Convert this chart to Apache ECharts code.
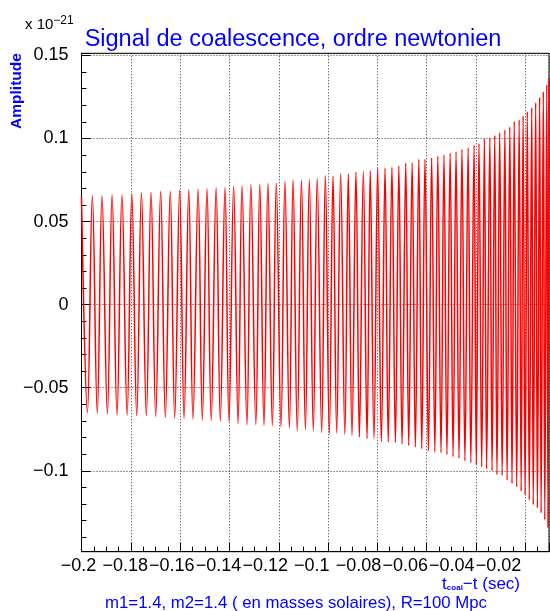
<!DOCTYPE html>
<html>
<head>
<meta charset="UTF-8">
<title>Signal de coalescence, ordre newtonien</title>
<script src="https://cdn.jsdelivr.net/npm/echarts@6/dist/echarts.min.js"></script>
<style>html,body{margin:0;padding:0;background:#fff;}</style>
</head>
<body>
<div id="chart" style="width:550px;height:611px;"></div>
<script type="text/javascript">
// extrema du signal : temps t-t_coal (s) et amplitude (x 1e-21)
var tMax = [-0.2000, -0.1956, -0.1917, -0.1876, -0.1836, -0.1796, -0.1757, -0.1718, -0.1679, -0.1640,
            -0.1602, -0.1565, -0.1527, -0.1491, -0.1454, -0.1418, -0.1383, -0.1349, -0.1313, -0.1277,
            -0.1244, -0.1210, -0.1175, -0.1142, -0.1108, -0.1076, -0.1044, -0.1011, -0.0980, -0.0949,
            -0.0918, -0.0887, -0.0857, -0.0829, -0.0799, -0.0769, -0.0741, -0.0713, -0.0685, -0.0659,
            -0.0632, -0.0607, -0.0580, -0.0555, -0.0530, -0.0505, -0.0481, -0.0457, -0.0432, -0.0408,
            -0.0388, -0.0366, -0.0344, -0.0324, -0.0304, -0.0283, -0.0263, -0.0245, -0.0225, -0.0209,
            -0.0192, -0.0174, -0.0158, -0.0142, -0.0127, -0.0113, -0.0104];
var hMax = [0.0650, 0.0655, 0.0655, 0.0661, 0.0662, 0.0668, 0.0673, 0.0677, 0.0683, 0.0683,
            0.0689, 0.0691, 0.0695, 0.0697, 0.0703, 0.0705, 0.0712, 0.0715, 0.0725, 0.0725,
            0.0731, 0.0733, 0.0743, 0.0751, 0.0751, 0.0755, 0.0761, 0.0777, 0.0773, 0.0789,
            0.0787, 0.0797, 0.0803, 0.0805, 0.0821, 0.0821, 0.0827, 0.0835, 0.0851, 0.0853,
            0.0875, 0.0875, 0.0883, 0.0894, 0.0901, 0.0913, 0.0921, 0.0936, 0.0945, 0.0961,
            0.0972, 0.0999, 0.1004, 0.1020, 0.1035, 0.1052, 0.1070, 0.1104, 0.1112, 0.1136,
            0.1162, 0.1186, 0.1216, 0.1248, 0.1282, 0.1323, 0.1363];
var tMin = [-0.1976, -0.1936, -0.1895, -0.1856, -0.1815, -0.1776, -0.1737, -0.1699, -0.1660, -0.1622,
            -0.1584, -0.1548, -0.1510, -0.1474, -0.1437, -0.1402, -0.1365, -0.1329, -0.1293, -0.1260,
            -0.1226, -0.1191, -0.1157, -0.1125, -0.1092, -0.1060, -0.1026, -0.0995, -0.0965, -0.0932,
            -0.0903, -0.0873, -0.0842, -0.0814, -0.0784, -0.0756, -0.0727, -0.0700, -0.0673, -0.0646,
            -0.0620, -0.0593, -0.0567, -0.0542, -0.0518, -0.0493, -0.0469, -0.0445, -0.0421, -0.0399,
            -0.0377, -0.0357, -0.0335, -0.0315, -0.0294, -0.0274, -0.0254, -0.0235, -0.0217, -0.0201,
            -0.0184, -0.0168, -0.0151, -0.0136, -0.0121, -0.0108];
var hMin = [-0.0649, -0.0653, -0.0657, -0.0665, -0.0665, -0.0669, -0.0669, -0.0673, -0.0677, -0.0683,
            -0.0685, -0.0689, -0.0693, -0.0697, -0.0701, -0.0705, -0.0717, -0.0723, -0.0721, -0.0727,
            -0.0729, -0.0737, -0.0743, -0.0758, -0.0753, -0.0759, -0.0770, -0.0777, -0.0773, -0.0782,
            -0.0789, -0.0797, -0.0806, -0.0809, -0.0826, -0.0826, -0.0830, -0.0839, -0.0848, -0.0857,
            -0.0868, -0.0880, -0.0886, -0.0892, -0.0902, -0.0916, -0.0924, -0.0940, -0.0950, -0.0964,
            -0.0976, -0.0988, -0.1000, -0.1024, -0.1028, -0.1056, -0.1076, -0.1096, -0.1122, -0.1144,
            -0.1174, -0.1205, -0.1224, -0.1254, -0.1295, -0.1341];

// axes
var xRange = [-0.2, -0.0104];
var yRange = [-0.1487, 0.1513];
var xStep = 0.02;
var yStep = 0.05;

// on alterne maxima et minima
var signal = [];
for (var i = 0; i < tMax.length; i++) {
    signal.push([tMax[i], hMax[i]]);
    if (i < tMin.length) signal.push([tMin[i], hMin[i]]);
}

var police = '"Liberation Sans", Arial, sans-serif';
var bleu = '#0000ff';

function fmt(v) {
    var s = String(Math.round(v * 1000) / 1000);
    return s.replace('-', '\u2212');
}
function surPas(v, pas) {
    return Math.abs(v / pas - Math.round(v / pas)) < 1e-6;
}

var grille = { show: true, lineStyle: { color: '#000', width: 1, type: [1, 2], opacity: 0.8 } };

var myChart = echarts.init(document.getElementById('chart'), null, { renderer: 'canvas' });

var option = {
    animation: false,
    backgroundColor: '#fff',
    grid: [
        { left: 81.5, right: 1, top: 53.3, bottom: 59.3, show: true, borderColor: '#000', borderWidth: 1,
          backgroundColor: 'transparent', outerBoundsMode: 'none', containLabel: false },
        // grille vide, seulement pour placer les etiquettes de l'axe x comme sur l'original
        { left: 78.5, width: 466.7, top: 53.3, bottom: 59.3, show: false, outerBoundsMode: 'none', containLabel: false }
    ],
    xAxis: [
        {
            type: 'value', gridIndex: 0, min: xRange[0], max: xRange[1], interval: xStep,
            axisLine: { show: true, onZero: false, lineStyle: { color: '#000', width: 1 } },
            axisTick: { show: true, inside: true, length: 9, lineStyle: { color: '#000' } },
            minorTick: { show: true, splitNumber: 4, length: 5, lineStyle: { color: '#000' } },
            axisLabel: { show: false },
            splitLine: grille
        },
        {
            type: 'value', gridIndex: 1, min: -0.2, max: 0, interval: xStep,
            axisLine: { show: false, onZero: false }, axisTick: { show: false }, splitLine: { show: false },
            axisLabel: {
                show: true, margin: 5, color: '#000', fontSize: 18, fontFamily: police,
                formatter: function (v) { return v > -0.001 ? '' : fmt(v); }
            }
        }
    ],
    yAxis: [
        {
            type: 'value', gridIndex: 0, min: yRange[0], max: yRange[1], splitNumber: 6,
            axisLine: { show: true, onZero: false, lineStyle: { color: '#000', width: 1 } },
            axisTick: { show: true, inside: true, length: 9, lineStyle: { color: '#000' } },
            minorTick: { show: true, splitNumber: 5, length: 5, lineStyle: { color: '#000' } },
            axisLabel: {
                show: true, margin: 13, color: '#000', fontSize: 18, fontFamily: police,
                showMinLabel: false, showMaxLabel: false,
                formatter: function (v) { return surPas(v, yStep) ? fmt(v) : ''; }
            },
            splitLine: grille
        },
        { type: 'value', gridIndex: 1, min: 0, max: 1, show: false }
    ],
    series: [{
        type: 'line',
        xAxisIndex: 0, yAxisIndex: 0,
        data: signal,
        showSymbol: false,
        smooth: 0.4,
        clip: true,
        lineStyle: { color: '#ff0000', width: 1.5 }
    }],
    graphic: [
        { type: 'text', x: 293, y: 40, style: { text: 'Signal de coalescence, ordre newtonien', fill: bleu,
            font: '23.5px ' + police, textAlign: 'center', textVerticalAlign: 'middle' } },
        { type: 'text', x: 25, y: 25, style: { text: 'x 10{e|\u221221}', fill: '#000', font: '15px ' + police,
            textVerticalAlign: 'middle',
            rich: { e: { fontSize: 12, fontFamily: police, verticalAlign: 'top', padding: [0, 0, 9, 0] } } } },
        { type: 'text', x: 17, y: 91, rotation: Math.PI / 2, style: { text: 'Amplitude', fill: bleu,
            font: 'bold 15.5px ' + police, textAlign: 'center', textVerticalAlign: 'middle' } },
        { type: 'text', x: 520, y: 584, style: { text: 't{s|coal}\u2212t (sec)', fill: bleu, font: '17px ' + police,
            textAlign: 'right', textVerticalAlign: 'middle',
            rich: { s: { fontSize: 8, fontFamily: police, fontWeight: 'bold', fill: bleu, padding: [8, 0, 0, 0] } } } },
        { type: 'text', x: 296, y: 603, style: { text: 'm1=1.4, m2=1.4 ( en masses solaires), R=100 Mpc', fill: bleu,
            font: '16.8px ' + police, textAlign: 'center', textVerticalAlign: 'middle' } }
    ]
};

myChart.setOption(option);
</script>
</body>
</html>
